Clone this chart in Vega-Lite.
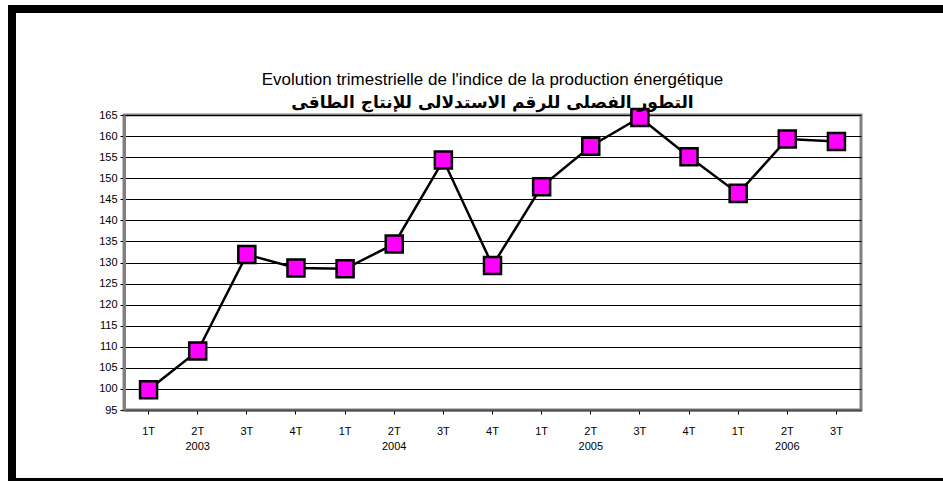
{
  "$schema": "https://vega.github.io/schema/vega-lite/v6.json",
  "width": 737,
  "height": 295,
  "padding": {"left": 12, "top": 9, "right": 0, "bottom": 0},
  "background": "white",
  "config": {
    "view": {"stroke": "#808080", "strokeWidth": 3},
    "font": "Liberation Sans"
  },
  "title": {
    "text": "Evolution trimestrielle de l'indice de la production énergétique",
    "subtitle": "التطور الفصلى للرقم الاستدلالى للإنتاج الطاقى",
    "anchor": "middle",
    "offset": -103,
    "font": "Liberation Sans",
    "fontSize": 17,
    "fontWeight": "normal",
    "color": "black",
    "subtitleFont": "DejaVu Sans",
    "subtitleFontSize": 17,
    "subtitleFontWeight": "bold",
    "subtitleColor": "black",
    "subtitlePadding": 6
  },
  "data": {
    "values": [
      {"period": "2003 1T", "year": 2003, "quarter": "1T", "value": 99.8},
      {"period": "2003 2T", "year": 2003, "quarter": "2T", "value": 109.0},
      {"period": "2003 3T", "year": 2003, "quarter": "3T", "value": 131.9},
      {"period": "2003 4T", "year": 2003, "quarter": "4T", "value": 128.7},
      {"period": "2004 1T", "year": 2004, "quarter": "1T", "value": 128.5},
      {"period": "2004 2T", "year": 2004, "quarter": "2T", "value": 134.4},
      {"period": "2004 3T", "year": 2004, "quarter": "3T", "value": 154.3},
      {"period": "2004 4T", "year": 2004, "quarter": "4T", "value": 129.3},
      {"period": "2005 1T", "year": 2005, "quarter": "1T", "value": 148.0},
      {"period": "2005 2T", "year": 2005, "quarter": "2T", "value": 157.6},
      {"period": "2005 3T", "year": 2005, "quarter": "3T", "value": 164.4},
      {"period": "2005 4T", "year": 2005, "quarter": "4T", "value": 155.1},
      {"period": "2006 1T", "year": 2006, "quarter": "1T", "value": 146.4},
      {"period": "2006 2T", "year": 2006, "quarter": "2T", "value": 159.3},
      {"period": "2006 3T", "year": 2006, "quarter": "3T", "value": 158.7}
    ]
  },
  "encoding": {
    "x": {
      "field": "period", "type": "nominal", "sort": null,
      "scale": {"type": "band", "paddingInner": 0, "paddingOuter": 0},
      "axis": {
        "title": null,
        "domainColor": "#505050", "domainWidth": 2,
        "tickColor": "black", "tickSize": 4,
        "labelAngle": 0, "labelFontSize": 11, "labelColor": "black", "labelPadding": 11,
        "labelExpr": "slice(datum.value,5)"
      }
    },
    "y": {
      "field": "value", "type": "quantitative",
      "scale": {"domain": [95, 165], "nice": false, "zero": false},
      "axis": {
        "title": null,
        "values": [95, 100, 105, 110, 115, 120, 125, 130, 135, 140, 145, 150, 155, 160, 165],
        "domainColor": "#808080", "domainWidth": 3,
        "tickColor": "black", "tickSize": 4,
        "labelFontSize": 11, "labelColor": "black", "labelPadding": 3,
        "gridColor": "black", "gridWidth": 1
      }
    }
  },
  "layer": [
    {
      "mark": {
        "type": "line",
        "color": "black",
        "strokeWidth": 2.5,
        "point": {"shape": "square", "size": 290, "filled": true, "fill": "#FF00FF", "stroke": "black", "strokeWidth": 2.5}
      },
      "encoding": {}
    },
    {
      "transform": [{"filter": "datum.quarter == '2T'"}],
      "mark": {"type": "text", "fontSize": 11, "color": "black", "dy": 37, "baseline": "middle", "align": "center"},
      "encoding": {
        "y": {"datum": 95},
        "text": {"field": "year", "type": "nominal"}
      }
    },
    {
      "mark": {"type": "point", "opacity": 0, "filled": true},
      "encoding": {
        "color": {
          "field": "value", "type": "quantitative",
          "scale": {"range": ["rgba(0,0,0,0)", "rgba(0,0,0,0)"]},
          "legend": {
            "orient": "none", "legendX": -112, "legendY": -106,
            "direction": "horizontal", "title": null, "padding": 0,
            "gradientLength": 936, "gradientThickness": 473,
            "gradientStrokeColor": "black", "gradientStrokeWidth": 8,
            "labelOpacity": 0, "labelFontSize": 1, "tickCount": 2
          }
        }
      }
    }
  ]
}
